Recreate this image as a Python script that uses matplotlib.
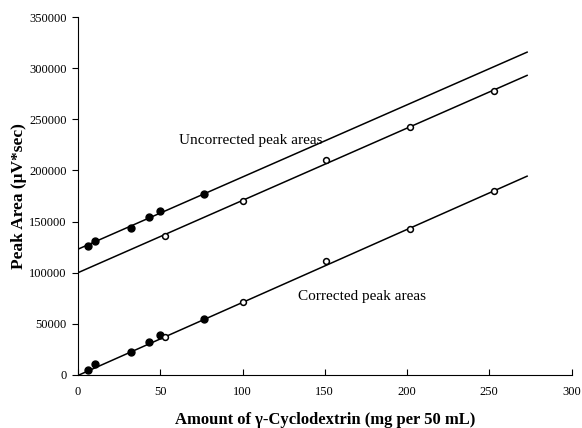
import matplotlib
matplotlib.use('Agg')
import matplotlib.pyplot as plt
import numpy as np

plt.rcParams['font.family'] = ['Liberation Serif', 'DejaVu Serif']

# filled points (one sample set)
x_filled = [6, 10.3, 32, 43, 50, 76.8]
unc_filled = [126100, 131000, 143700, 154500, 160300, 176900]
cor_filled = [4900, 10700, 22500, 32300, 39100, 54700]

# open points (other sample set)
x_open = [53, 100.4, 150.5, 202, 252.7]
unc_open = [135900, 170100, 210000, 242400, 277600]
cor_open = [37100, 71000, 111400, 142700, 179900]

# fitted lines: (intercept, slope, x start, x end)
fit_unc_filled = (123000, 706, 0, 273)
fit_unc_open = (100000, 707, 0, 273)
fit_cor = (-500, 714, 1, 273)

x_ticks = [0, 50, 100, 150, 200, 250, 300]
y_ticks = [0, 50000, 100000, 150000, 200000, 250000, 300000, 350000]

fig = plt.figure(figsize=(5.82, 4.28), dpi=100)
ax = fig.add_axes([0.134, 0.124, 0.848, 0.836])

for b, m, x0, x1 in [fit_unc_filled, fit_unc_open, fit_cor]:
    xx = np.array([x0, x1])
    ax.plot(xx, b + m * xx, color='black', lw=1.1, zorder=2)

ax.plot(x_filled, unc_filled, 'o', color='black', ms=5, zorder=3)
ax.plot(x_filled, cor_filled, 'o', color='black', ms=5, zorder=3)
ax.plot(x_open, unc_open, 'o', mfc='white', mec='black', mew=1.1, ms=4.2, zorder=3)
ax.plot(x_open, cor_open, 'o', mfc='white', mec='black', mew=1.1, ms=4.2, zorder=3)

ax.text(61.7, 229700, 'Uncorrected peak areas', fontsize=11, va='center', ha='left')
ax.text(133.6, 77200, 'Corrected peak areas', fontsize=11, va='center', ha='left')

ax.set_xlim(0, 300)
ax.set_ylim(0, 350000)
ax.set_xticks(x_ticks)
ax.set_yticks(y_ticks)
ax.spines['top'].set_visible(False)
ax.spines['right'].set_visible(False)
ax.spines['left'].set_linewidth(0.8)
ax.spines['bottom'].set_linewidth(0.8)
ax.tick_params(axis='x', direction='in', length=4, width=0.8, labelsize=9, pad=8)
ax.tick_params(axis='y', direction='out', length=4, width=0.8, labelsize=9, pad=4)

ax.set_xlabel('Amount of γ-Cyclodextrin (mg per 50 mL)', fontsize=12, fontweight='bold', labelpad=10)
ax.set_ylabel('Peak Area (μV*sec)', fontsize=12.5, fontweight='bold', labelpad=1.5)

fig.savefig('out.png', dpi=100)
